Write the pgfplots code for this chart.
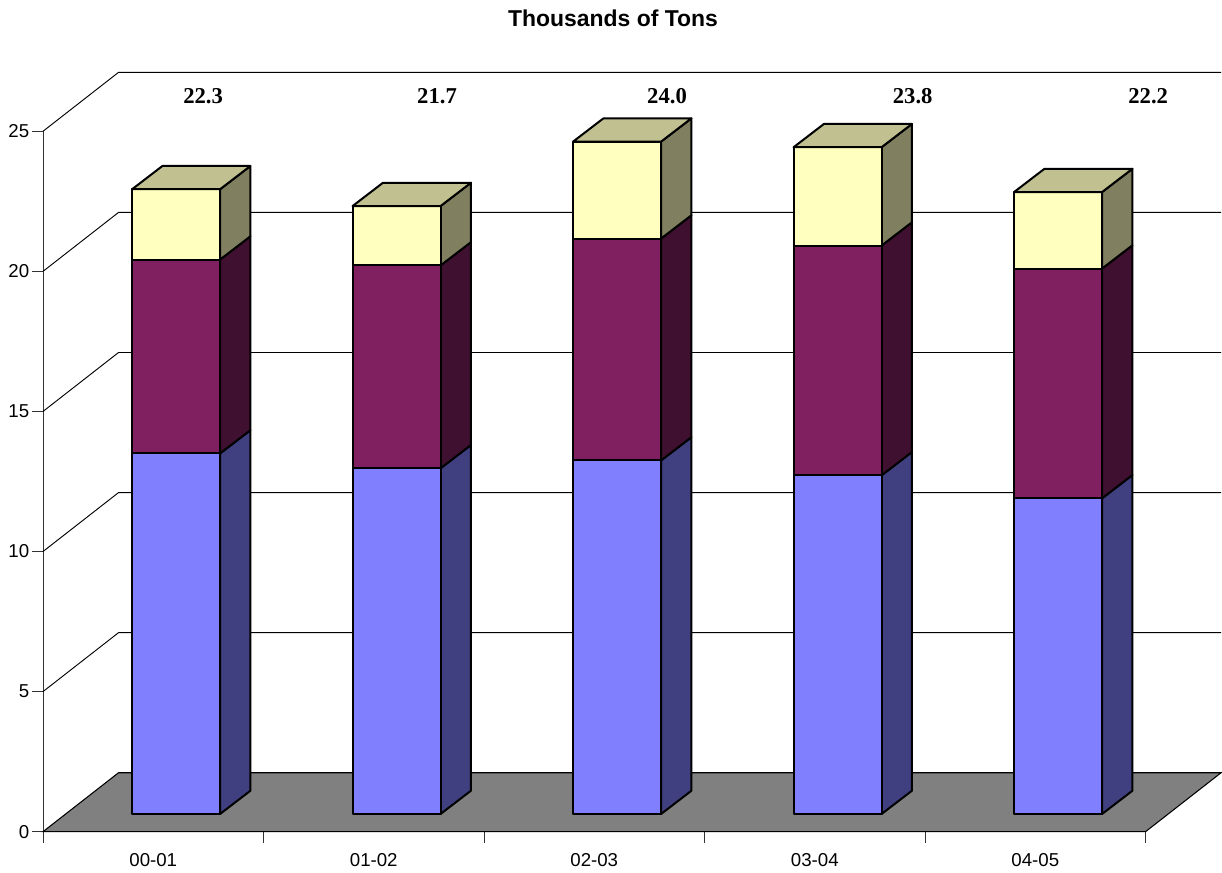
\documentclass[border=0pt]{standalone}
\usepackage{fontspec}
\setmainfont{Liberation Sans}
\newfontfamily\labelserif{Liberation Serif}
\usepackage{pgfplots}
\usepackage{pgfplotstable}
\pgfplotsset{compat=1.18}

% Stacked tonnage per season
\pgfplotstableread{
idx blue maroon yellow
0   12.87 6.92  2.51
1   12.34 7.24  2.12
2   12.62 7.92  3.46
3   12.09 8.20  3.51
4   11.27 8.20  2.73
}\tonnage

% Totals printed above the bars, with their label positions
\pgfplotstableread{
x     y     total
0.726 26.25 22.3
1.787 26.25 21.7
2.830 26.25 24.0
3.944 26.25 23.8
5.012 26.25 22.2
}\totals

\definecolor{bluefront}{HTML}{8080FF}
\definecolor{blueside}{HTML}{404080}
\definecolor{maroonfront}{HTML}{802060}
\definecolor{maroonside}{HTML}{401030}
\definecolor{yellowfront}{HTML}{FFFFC0}
\definecolor{yellowside}{HTML}{808060}
\definecolor{yellowtop}{HTML}{C0C090}

% Oblique projection offsets, in axis units
\def\wallx{0.3424}\def\wally{2.103}
\def\depthx{0.1375}\def\depthy{0.83}
\def\floorlift{0.631}
\def\barleft{0.404}\def\barright{0.803}

% One box: #1 category, #2 lower value, #3 upper value, #4 front, #5 side
\newcommand{\boxsegment}[5]{%
  \pgfmathsetmacro\xa{#1+\barleft}%
  \pgfmathsetmacro\xb{#1+\barright}%
  \pgfmathsetmacro\xc{\xb+\depthx}%
  \pgfmathsetmacro\ya{#2+\floorlift}%
  \pgfmathsetmacro\yb{#3+\floorlift}%
  \pgfmathsetmacro\yc{\ya+\depthy}%
  \pgfmathsetmacro\yd{\yb+\depthy}%
  \edef\drawit{%
    \noexpand\addplot[barface,fill=#5] coordinates {(\xb,\ya)(\xc,\yc)(\xc,\yd)(\xb,\yb)} -- cycle;
    \noexpand\addplot[barface,fill=#4] coordinates {(\xa,\ya)(\xb,\ya)(\xb,\yb)(\xa,\yb)} -- cycle;
  }\drawit
}
\newcommand{\boxtop}[3]{%
  \pgfmathsetmacro\xa{#1+\barleft}%
  \pgfmathsetmacro\xb{#1+\barright}%
  \pgfmathsetmacro\xc{\xa+\depthx}%
  \pgfmathsetmacro\xd{\xb+\depthx}%
  \pgfmathsetmacro\ya{#2+\floorlift}%
  \pgfmathsetmacro\yb{\ya+\depthy}%
  \edef\drawit{%
    \noexpand\addplot[barface,fill=#3] coordinates {(\xa,\ya)(\xb,\ya)(\xd,\yb)(\xc,\yb)} -- cycle;
  }\drawit
}
\newcommand{\gridrow}[1]{%
  \pgfmathsetmacro\yb{#1+\wally}%
  \pgfmathsetmacro\xe{5+\wallx}%
  \edef\drawit{%
    \noexpand\addplot[black,line width=0.7pt,mark=none] coordinates {(0,#1)(\wallx,\yb)(\xe,\yb)};
  }\drawit
}

\begin{document}
\begin{tikzpicture}[x=1pt,y=1pt]
\useasboundingbox (0,0) rectangle (916.5,654.75);
\begin{axis}[
  at={(32.25pt,30.98pt)}, anchor=south west,
  scale only axis, width=826.9pt, height=525.3pt,
  xmin=0, xmax=5, ymin=0, ymax=25,
  clip=false,
  axis lines*=left,
  axis line style={-, line width=0.7pt, black!80},
  tick style={black!80, line width=0.7pt},
  tick align=outside,
  major tick length=8.4pt,
  xtick={0,1,2,3,4,5}, xticklabels={},
  extra x ticks={0.5,1.5,2.5,3.5,4.5},
  extra x tick labels={00-01,01-02,02-03,03-04,04-05},
  extra x tick style={major tick length=0pt,
    xticklabel style={yshift=-12.5pt}},
  ytick={0,5,10,15,20,25},
  tick label style={font=\fontsize{14}{16}\selectfont},
  yticklabel style={xshift=1.6pt},
  /pgf/number format/assume math mode=true,
  title={\textbf{Thousands of Tons}},
  title style={at={(0.517,1)}, anchor=center, yshift=79pt,
    font=\fontsize{17.2}{20}\selectfont},
  barface/.style={draw=black, line width=1.5pt, line join=round, mark=none},
]
  % floor plate
  \addplot[fill=black!50, draw=black, line width=0.8pt, mark=none]
    coordinates {(0,0)(5,0)(5.3424,2.103)(0.3424,2.103)} -- cycle;

  % back wall grid
  \gridrow{5}\gridrow{10}\gridrow{15}\gridrow{20}\gridrow{25}

  % stacked boxes, bottom to top
  \pgfplotsinvokeforeach{0,1,2,3,4}{%
    \pgfplotstablegetelem{#1}{blue}\of\tonnage
    \pgfmathsetmacro\vblue{\pgfplotsretval}%
    \pgfplotstablegetelem{#1}{maroon}\of\tonnage
    \pgfmathsetmacro\vmaroon{\vblue+\pgfplotsretval}%
    \pgfplotstablegetelem{#1}{yellow}\of\tonnage
    \pgfmathsetmacro\vyellow{\vmaroon+\pgfplotsretval}%
    \boxsegment{#1}{0}{\vblue}{bluefront}{blueside}%
    \boxsegment{#1}{\vblue}{\vmaroon}{maroonfront}{maroonside}%
    \boxsegment{#1}{\vmaroon}{\vyellow}{yellowfront}{yellowside}%
    \boxtop{#1}{\vyellow}{yellowtop}%
  }

  % season totals
  \addplot[draw=none, mark=none, point meta=explicit,
    nodes near coords,
    every node near coord/.style={anchor=center, inner sep=0pt,
      font=\labelserif\bfseries\fontsize{17}{20}\selectfont,
      /pgf/number format/.cd, fixed, fixed zerofill, precision=1,
      assume math mode=true},
  ] table[x=x, y=y, meta=total] {\totals};
\end{axis}
\end{tikzpicture}
\end{document}
